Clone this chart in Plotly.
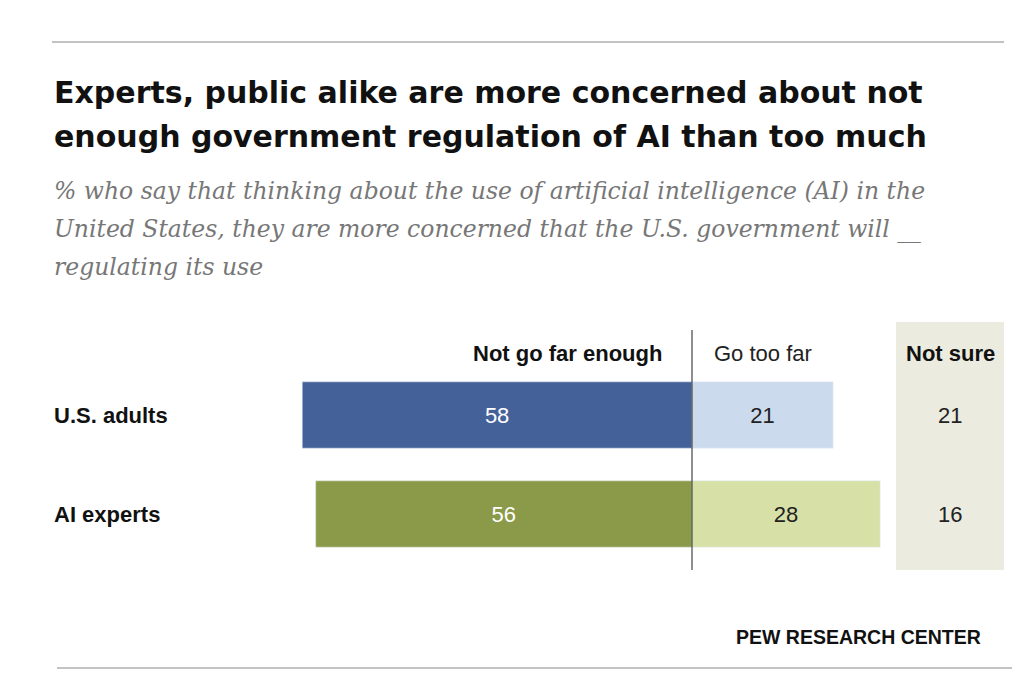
import plotly.graph_objects as go

groups = ["U.S. adults", "AI experts"]
not_far = [58, 56]
too_far = [21, 28]
not_sure = [21, 16]
dark = ["#44619a", "#8a9a48"]
light = ["#ccdaee", "#d7e0a6"]

W, H = 1024, 688
OFF = 8
fig = go.Figure()
lf = "Liberation Sans"
fig.add_trace(go.Bar(y=groups, x=[-v for v in not_far], orientation="h", marker_color=dark,
                     width=0.67, text=[str(v) for v in not_far], textposition="inside",
                     insidetextanchor="middle", textfont=dict(color="white", size=22, family=lf),
                     hoverinfo="skip"))
fig.add_trace(go.Bar(y=groups, x=too_far, orientation="h", marker_color=light,
                     width=0.67, text=[str(v) for v in too_far], textposition="inside",
                     insidetextanchor="middle", textfont=dict(color="#222", size=22, family=lf),
                     hoverinfo="skip"))
px = 6.72
cx = 692 - OFF
cy = 415 - OFF
fig.update_layout(
    width=W, height=H, margin=dict(l=0, r=0, t=0, b=0), barmode="relative",
    paper_bgcolor="white", plot_bgcolor="rgba(0,0,0,0)", showlegend=False,
    xaxis=dict(range=[-cx / px, (W - cx) / px], visible=False, fixedrange=True),
    yaxis=dict(range=[(H - cy) / 99, -cy / 99], visible=False, type="category"),
    font=dict(family=lf, color="#222"),
)
def X(p): return (p - OFF) / W
def Y(p): return 1 - (p - OFF) / H
shapes = [
    dict(type="rect", xref="paper", yref="paper", x0=X(896), x1=X(1004), y0=Y(570), y1=Y(322),
         fillcolor="#ebebe0", line_width=0, layer="below"),
    dict(type="line", xref="paper", yref="paper", x0=X(692), x1=X(692), y0=Y(570), y1=Y(330),
         line=dict(color="#444", width=1.2)),
    dict(type="line", xref="paper", yref="paper", x0=X(52), x1=X(1004), y0=Y(42), y1=Y(42),
         line=dict(color="#888", width=1.2)),
    dict(type="line", xref="paper", yref="paper", x0=X(57), x1=X(1012), y0=Y(668), y1=Y(668),
         line=dict(color="#888", width=1.2)),
]
fig.update_layout(shapes=shapes)
ann = []
def A(x, y, t, **k):
    d = dict(xref="paper", yref="paper", x=X(x), y=Y(y), text=t, showarrow=False,
             xanchor="left", yanchor="middle")
    d.update(k)
    ann.append(d)
tf = dict(family="DejaVu Sans", size=30, color="#111")
A(52, 92, "<b>Experts, public alike are more concerned about not</b>", font=tf)
A(52, 136, "<b>enough government regulation of AI than too much</b>", font=tf)
sf = dict(family="DejaVu Serif", size=23.5, color="#777")
for i, line in enumerate(["% who say that thinking about the use of artificial intelligence (AI) in the",
                          "United States, they are more concerned that the U.S. government will __",
                          "regulating its use"]):
    A(52, 191 + 38 * i, "<i>" + line + "</i>", font=sf)
A(664, 353, "<b>Not go far enough</b>", xanchor="right", font=dict(size=22, color="#111"))
A(712, 353, "Go too far", font=dict(size=22, color="#222"))
A(950, 353, "<b>Not sure</b>", xanchor="center", font=dict(size=22, color="#111"))
for g, yy, ns in zip(groups, [415, 514], not_sure):
    A(52, yy, "<b>" + g + "</b>", font=dict(size=22, color="#111"))
    A(950, yy, str(ns), xanchor="center", font=dict(size=22, color="#222"))
A(983, 637, "<b>PEW RESEARCH CENTER</b>", xanchor="right", font=dict(size=19.5, color="#111"))
fig.update_layout(annotations=ann)
fig.write_html("out.html")
